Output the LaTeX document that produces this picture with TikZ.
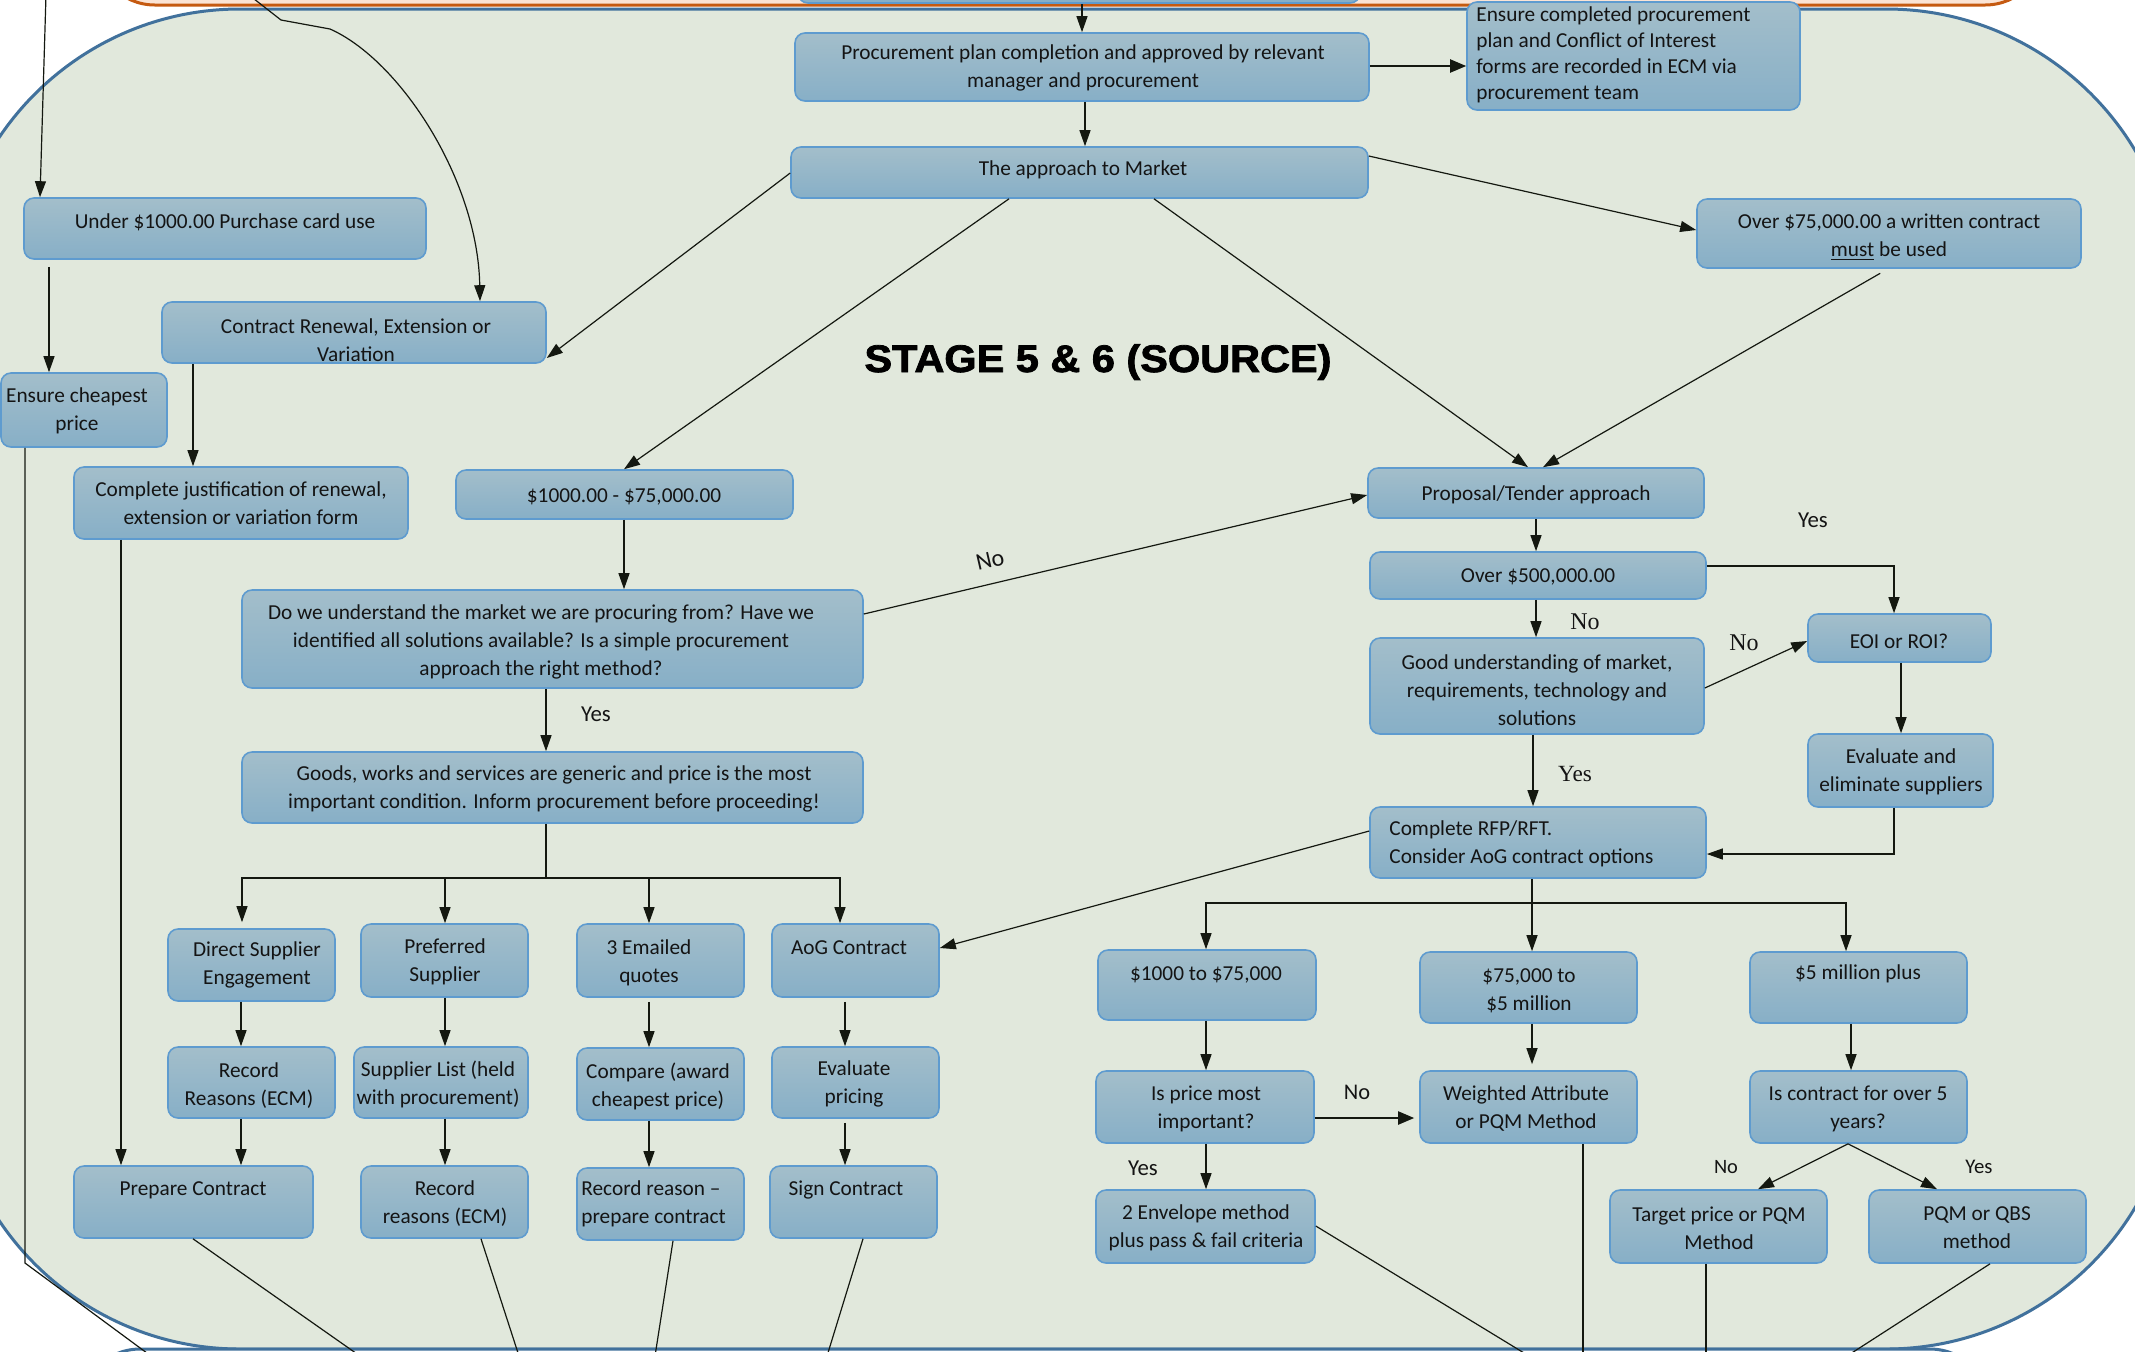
\documentclass[tikz,border=0pt]{standalone}
\usepackage{graphicx}
\usepackage{fontspec}
\setmainfont{Carlito}
\newfontfamily\yesnoserif{Liberation Serif}
\newfontfamily\titlefont[BoldFeatures={FakeBold=2}]{Liberation Sans}
\usetikzlibrary{arrows.meta}
\definecolor{bggreen}{HTML}{E1E8DC}
\definecolor{boxtop}{HTML}{A3BECA}
\definecolor{boxbot}{HTML}{87AFC7}
\definecolor{boxline}{HTML}{5E9BCF}
\definecolor{lc}{HTML}{141810}
\definecolor{txtc}{HTML}{141414}
\definecolor{orangeline}{HTML}{C55A11}
\definecolor{peach}{HTML}{FBE4D5}
\definecolor{regionline}{HTML}{41719C}
\newcommand\mkbox[5]{\node[pbx, minimum width={(#4-#2)*0.5pt}, minimum height={(#5-#3)*0.5pt}] (#1) at ({(#2+#4)/2},{(#3+#5)/2}) {};}
\begin{document}
\begin{tikzpicture}[x=0.5pt, y=-0.5pt,
  pbx/.style={draw=boxline, line width=0.8pt, rounded corners=5pt, top color=boxtop, bottom color=boxbot, inner sep=0pt},
  txt/.style={align=center, inner sep=0pt, text=txtc, font=\fontsize{10.65}{14}\selectfont},
  ltxt/.style={txt, align=left, anchor=west},
  lab/.style={inner sep=0pt, text=txtc, font=\fontsize{11.4}{13}\selectfont},
  slab/.style={inner sep=0pt, text=txtc, font=\yesnoserif\fontsize{12}{13}\selectfont},
  ln/.style={draw=lc, line width=0.6pt},
  arr/.style={ln, -{Triangle[length=8pt,width=5.5pt]}},
  thickarr/.style={draw=lc, line width=1pt, -{Triangle[length=8pt,width=6.5pt]}}]
\path[use as bounding box] (0,0) rectangle (2135,1351);
\clip (0,0) rectangle (2135,1351);
% backgrounds
\fill[white] (0,0) rectangle (2135,1351);
\draw[orangeline, line width=1.5pt, fill=peach, rounded corners=30pt] (95,-200) rectangle (2045,5);
\draw[regionline, line width=1.5pt, fill=bggreen, rounded corners=145pt] (-50,9) rectangle (2176,1349);
\draw[regionline, line width=1.5pt, fill=white, rounded corners=30pt] (80,1349) rectangle (1990,1700);
% previous stage box (partial)
\node[pbx, minimum width=281pt, minimum height=32pt] (prev) at (1079,-29) {};
% boxes
\mkbox{plan}{795}{33}{1369}{101}
\mkbox{ecm}{1467}{2}{1800}{110}
\mkbox{appr}{791}{147}{1368}{198}
\mkbox{under}{24}{198}{426}{259}
\mkbox{renew}{162}{302}{546}{363}
\mkbox{cheap}{1}{373}{167}{447}
\mkbox{o75}{1697}{199}{2081}{268}
\mkbox{just}{74}{467}{408}{539}
\mkbox{r1k}{456}{470}{793}{519}
\mkbox{prop}{1368}{468}{1704}{518}
\mkbox{q}{242}{590}{863}{688}
\mkbox{o500}{1370}{552}{1706}{599}
\mkbox{good}{1370}{638}{1704}{734}
\mkbox{eoi}{1808}{614}{1991}{662}
\mkbox{goods}{242}{752}{863}{823}
\mkbox{evel}{1808}{734}{1993}{807}
\mkbox{rfp}{1370}{807}{1706}{878}
\mkbox{dse}{168}{929}{335}{1001}
\mkbox{pref}{361}{924}{528}{997}
\mkbox{quo}{577}{924}{744}{997}
\mkbox{aog}{772}{924}{939}{997}
\mkbox{recA}{168}{1047}{335}{1118}
\mkbox{slist}{354}{1047}{528}{1118}
\mkbox{comp}{577}{1048}{744}{1120}
\mkbox{evp}{772}{1047}{939}{1118}
\mkbox{prep}{74}{1166}{313}{1238}
\mkbox{recB}{361}{1166}{528}{1238}
\mkbox{recC}{577}{1168}{744}{1240}
\mkbox{sign}{770}{1166}{937}{1238}
\mkbox{a1}{1098}{950}{1316}{1020}
\mkbox{a2}{1420}{952}{1637}{1023}
\mkbox{a3}{1750}{952}{1967}{1023}
\mkbox{b1}{1096}{1071}{1314}{1143}
\mkbox{b2}{1420}{1071}{1637}{1143}
\mkbox{b3}{1750}{1071}{1967}{1143}
\mkbox{c1}{1096}{1190}{1315}{1263}
\mkbox{c2}{1610}{1190}{1827}{1263}
\mkbox{c3}{1869}{1190}{2086}{1263}
% texts
\node[txt] (plan-t) at (1083,68) {Procurement plan completion and approved by relevant\\manager and procurement};
\node[ltxt, font=\fontsize{10.65}{13}\selectfont] (ecm-t) at (1476,55) {Ensure completed procurement\\plan and Conflict of Interest\\forms are recorded in ECM via\\procurement team};
\node[txt] (appr-t) at (1083,170) {The approach to Market};
\node[txt] (under-t) at (225,222) {Under \$1000.00 Purchase card use};
\node[txt] (renew-t) at (356,340) {Contract Renewal, Extension or\\Variation};
\node[txt] (cheap-t) at (77,411) {Ensure cheapest\\price};
\node[txt] (o75-t) at (1889,237) {Over \$75,000.00 a written contract\\\underline{must} be used};
\node[txt] (just-t) at (241,503) {Complete justification of renewal,\\extension or variation form};
\node[txt] (r1k-t) at (624,497) {\$1000.00 - \$75,000.00};
\node[txt] (prop-t) at (1536,495) {Proposal/Tender approach};
\node[txt] (q-t) at (541,642) {Do we understand the market we are procuring from? Have we\\identified all solutions available? Is a simple procurement\\approach the right method?};
\node[txt] (o500-t) at (1538,577) {Over \$500,000.00};
\node[txt] (good-t) at (1537,690) {Good understanding of market,\\requirements, technology and\\solutions};
\node[txt] (eoi-t) at (1899,641) {EOI or ROI?};
\node[txt] (goods-t) at (554,789) {Goods, works and services are generic and price is the most\\important condition. Inform procurement before proceeding!};
\node[txt] (evel-t) at (1901,772) {Evaluate and\\eliminate suppliers};
\node[ltxt] (rfp-t) at (1389,844) {Complete RFP/RFT.\\Consider AoG contract options};
\node[txt] (dse-t) at (257,965) {Direct Supplier\\Engagement};
\node[txt] (pref-t) at (445,962) {Preferred\\Supplier};
\node[txt] (quo-t) at (649,963) {3 Emailed\\quotes};
\node[txt] (aog-t) at (849,948) {AoG Contract};
\node[txt] (recA-t) at (249,1086) {Record\\Reasons (ECM)};
\node[txt] (slist-t) at (438,1084) {Supplier List (held\\with procurement)};
\node[txt] (comp-t) at (658,1086) {Compare (award\\cheapest price)};
\node[txt] (evp-t) at (854,1084) {Evaluate\\pricing};
\node[txt] (prep-t) at (193,1190) {Prepare Contract};
\node[txt] (recB-t) at (445,1204) {Record\\reasons (ECM)};
\node[ltxt] (recC-t) at (581,1204) {Record reason --\\prepare contract};
\node[txt] (sign-t) at (846,1190) {Sign Contract};
\node[txt] (a1-t) at (1206,975) {\$1000 to \$75,000};
\node[txt] (a2-t) at (1529,991) {\$75,000 to\\\$5 million};
\node[txt] (a3-t) at (1858,974) {\$5 million plus};
\node[txt] (b1-t) at (1206,1109) {Is price most\\important?};
\node[txt] (b2-t) at (1526,1108) {Weighted Attribute\\or PQM Method};
\node[txt] (b3-t) at (1858,1109) {Is contract for over 5\\years?};
\node[txt] (c1-t) at (1206,1228) {2 Envelope method\\plus pass \& fail criteria};
\node[txt] (c2-t) at (1719,1228) {Target price or PQM\\Method};
\node[txt] (c3-t) at (1977,1228) {PQM or QBS\\method};
% title
\node[anchor=base, inner sep=0pt, text=black, font=\titlefont\bfseries\fontsize{19.2}{20}\selectfont] (title) at (1098,372) {\scalebox{1.08}[1]{STAGE 5 \& 6 (SOURCE)}};
% labels
\node[lab, rotate=13, font=\fontsize{12}{13}\selectfont] (l-no1) at (990,560) {No};
\node[lab] (l-yes1) at (596,714) {Yes};
\node[lab] (l-yes2) at (1813,520) {Yes};
\node[slab] (l-no2) at (1585,622) {No};
\node[slab] (l-no3) at (1744,643) {No};
\node[slab, font=\yesnoserif\fontsize{11.6}{13}\selectfont] (l-yes3) at (1575,774) {Yes};
\node[lab, font=\fontsize{11.2}{13}\selectfont] (l-no4) at (1357,1092) {No};
\node[lab] (l-yes4) at (1143,1168) {Yes};
\node[lab, font=\fontsize{10.2}{11}\selectfont] (l-no5) at (1726,1167) {No};
\node[lab, font=\fontsize{10.4}{11}\selectfont] (l-yes5) at (1979,1167) {Yes};
% free ends
\coordinate (inL) at (46,-5);
\coordinate (inC) at (249,-5);
\coordinate (k1) at (281,20);
\coordinate (k2) at (330,29);
\coordinate (lbend) at (25,1263);
\coordinate (out0) at (151,1356);
\coordinate (out1) at (360,1356);
\coordinate (out2) at (519,1356);
\coordinate (out3) at (655,1356);
\coordinate (out4) at (827,1356);
\coordinate (out5) at (1529,1356);
\coordinate (out6) at (1583,1356);
\coordinate (out7) at (1706,1356);
\coordinate (out8) at (1847,1356);
\coordinate (gj) at (546,878);
\coordinate (rj) at (1532,903);
% connectors (top part)
\draw[arr] (prev.south -| 1082,0) -- (plan.north -| 1082,0);
\draw[arr] (plan.south -| 1085,0) -- (appr.north -| 1085,0);
\draw[thickarr] (plan.east |- 0,66) -- (ecm.west |- 0,66);
\draw[arr] (appr.west |- 0,173) -- (renew.east |- 0,358);
\draw[arr] (appr.south -| 1009,0) -- (r1k.north -| 624,0);
\draw[arr] (appr.south -| 1154,0) -- (prop.north -| 1528,0);
\draw[arr] (appr.east |- 0,156) -- (o75.west |- 0,230);
\draw[arr, shorten <=4.5pt] (o75.south -| 1888,0) -- (prop.north -| 1543,0);
\draw[arr] (inL) -- (under.north -| 40,0);
\draw[arr] (inC) -- (k1) -- (k2) .. controls (400,60) and (478,180) .. (renew.north -| 480,0);
\draw[arr, shorten <=3.5pt] (under.south -| 49,0) -- (cheap.north -| 49,0);
\draw[arr] (renew.south -| 193,0) -- (just.north -| 193,0);
\draw[ln] (cheap.south -| 25,0) -- (lbend) -- (out0);
\draw[arr] (just.south -| 121,0) -- (prep.north -| 121,0);
\draw[arr] (r1k.south -| 624,0) -- (q.north -| 624,0);
\draw[arr] (q.east |- 0,614) -- (prop.west |- 0,495);
\draw[arr] (q.south -| 546,0) -- (goods.north -| 546,0);
% goods tree
\draw[ln] (goods.south -| 546,0) -- (gj);
\draw[arr, shorten >=3pt] (gj) -| (dse.north -| 242,0);
\draw[arr] (gj) -| (pref.north -| 445,0);
\draw[arr] (gj) -| (quo.north -| 649,0);
\draw[arr] (gj) -| (aog.north -| 840,0);
\draw[arr] (dse.south -| 241,0) -- (recA.north -| 241,0);
\draw[arr] (pref.south -| 445,0) -- (slist.north -| 445,0);
\draw[arr, shorten <=2pt] (quo.south -| 649,0) -- (comp.north -| 649,0);
\draw[arr, shorten <=2pt] (aog.south -| 845,0) -- (evp.north -| 845,0);
\draw[arr] (recA.south -| 241,0) -- (prep.north -| 241,0);
\draw[arr] (slist.south -| 445,0) -- (recB.north -| 445,0);
\draw[arr] (comp.south -| 649,0) -- (recC.north -| 649,0);
\draw[arr, shorten <=2pt] (evp.south -| 845,0) -- (sign.north -| 845,0);
\draw[arr] (rfp.west |- 0,831) -- (aog.east |- 0,948);
\draw[ln] (prep.south -| 193,0) -- (out1);
\draw[ln] (recB.south -| 481,0) -- (out2);
\draw[ln] (recC.south -| 673,0) -- (out3);
\draw[ln] (sign.south -| 863,0) -- (out4);
% right part
\draw[arr] (prop.south -| 1536,0) -- (o500.north -| 1536,0);
\draw[arr] (o500.east |- 0,566) -| (eoi.north -| 1894,0);
\draw[arr] (o500.south -| 1536,0) -- (good.north -| 1536,0);
\draw[arr] (good.east |- 0,688) -- (eoi.west |- 0,641);
\draw[arr] (eoi.south -| 1901,0) -- (evel.north -| 1901,0);
\draw[arr] (evel.south -| 1894,0) |- (rfp.east |- 0,854);
\draw[arr] (good.south -| 1533,0) -- (rfp.north -| 1533,0);
\draw[ln] (rfp.south -| 1532,0) -- (rj);
\draw[arr] (rj) -| (a1.north -| 1206,0);
\draw[arr] (rj) -- (a2.north -| 1532,0);
\draw[arr] (rj) -| (a3.north -| 1846,0);
\draw[arr] (a1.south -| 1206,0) -- (b1.north -| 1206,0);
\draw[arr, shorten >=3pt] (a2.south -| 1532,0) -- (b2.north -| 1532,0);
\draw[arr] (a3.south -| 1851,0) -- (b3.north -| 1851,0);
\draw[thickarr, shorten >=2.5pt] (b1.east |- 0,1118) -- (b2.west |- 0,1118);
\draw[arr] (b1.south -| 1206,0) -- (c1.north -| 1206,0);
\draw[arr] (b3.south -| 1848,0) -- (c2.north -| 1758,0);
\draw[arr] (b3.south -| 1848,0) -- (c3.north -| 1937,0);
\draw[ln] (c1.east |- 0,1226) -- (out5);
\draw[ln] (b2.south -| 1583,0) -- (out6);
\draw[ln] (c2.south -| 1706,0) -- (out7);
\draw[ln] (c3.south -| 1990,0) -- (out8);
\end{tikzpicture}
\end{document}
